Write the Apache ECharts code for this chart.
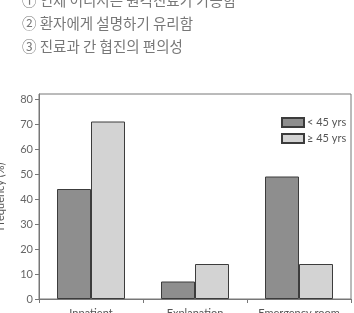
<!DOCTYPE html>
<html><head><meta charset="utf-8">
<script src="https://cdn.jsdelivr.net/npm/echarts@6/dist/echarts.min.js"></script>
<style>html,body{margin:0;padding:0;background:#fff}#c{width:354px;height:313px}</style>
</head><body><div id="c"></div>
<script>
var headerLines = ['① 언제 어디서든 원격진료가 가능함', '② 환자에게 설명하기 유리함', '③ 진료과 간 협진의 편의성'];
var categories = ['Inpatient', 'Explanation', 'Emergency room'];
var seriesNames = ['< 45 yrs', '≥ 45 yrs'];
var under45 = [44, 7, 49];
var over45 = [71, 14, 14];
var yTicks = [0, 10, 20, 30, 40, 50, 60, 70, 80];

var chart = echarts.init(document.getElementById('c'), null, {renderer: 'canvas'});
var font = 'Lato, "Open Sans", sans-serif';
var gfx = headerLines.map(function (t, i) {
  return {type: 'text', left: 22, top: -7 + i * 23,
    style: {text: t, font: '14.5px "Noto Sans CJK KR"', fill: '#777'}};
});
chart.setOption({
  animation: false,
  graphic: gfx,
  grid: {left: 39, right: 3, top: 94, bottom: 14, show: true, borderColor: '#777', borderWidth: 1,
         containLabel: false, outerBoundsMode: 'none'},
  legend: {
    orient: 'vertical', left: 276, top: 112, itemWidth: 22, itemHeight: 9, itemGap: 5, icon: 'rect',
    textStyle: {fontFamily: font, fontSize: 11, color: '#555', padding: [0, 0, 0, -2]},
    data: seriesNames
  },
  xAxis: {
    type: 'category', data: categories,
    axisLine: {lineStyle: {color: '#777'}},
    axisTick: {show: true, length: 4, inside: false, lineStyle: {color: '#777'}},
    axisLabel: {fontFamily: font, fontSize: 11, color: '#555', margin: 9, interval: 0}
  },
  yAxis: {
    type: 'value', min: 0, max: 82, interval: 10,
    name: 'Frequency (%)', nameLocation: 'middle', nameGap: 33,
    nameTextStyle: {fontFamily: font, fontSize: 11, color: '#555'},
    axisLine: {show: true, lineStyle: {color: '#777'}},
    axisTick: {show: true, length: 4, customValues: yTicks, lineStyle: {color: '#777'}},
    axisLabel: {fontFamily: font, fontSize: 11, color: '#666', margin: 6, customValues: yTicks},
    splitLine: {show: false}
  },
  series: [
    {name: seriesNames[0], type: 'bar', data: under45, barWidth: 34, barGap: '0%',
     itemStyle: {color: '#8e8e8e', borderColor: '#3c3c3c', borderWidth: 1}},
    {name: seriesNames[1], type: 'bar', data: over45, barWidth: 34, barGap: '0%',
     itemStyle: {color: '#d3d3d3', borderColor: '#3c3c3c', borderWidth: 1}}
  ]
});
</script></body></html>
